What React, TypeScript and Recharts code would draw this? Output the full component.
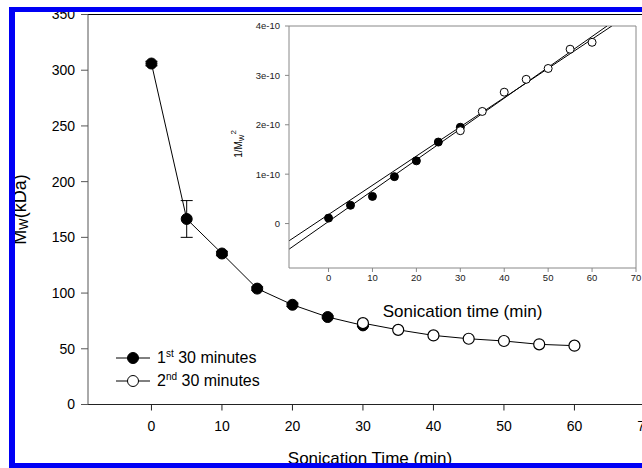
import React from 'react';
import { LineChart, Line, XAxis, YAxis, ErrorBar, ReferenceLine, Legend } from 'recharts';

// main panel: Mw (kDa) vs sonication time
const timeFirst = [0, 5, 10, 15, 20, 25, 30];
const mwFirst = [306, 166.5, 135.5, 104, 89.5, 78.5, 71];
const mwFirstErr = [2, 16.5, 2, 1.5, 1.5, 1, 1];
const timeSecond = [30, 35, 40, 45, 50, 55, 60];
const mwSecond = [73, 67, 62, 59, 57, 54, 52.8];

// inset: 1/Mw^2, in units of 1e-10
const invFirst = [0.11, 0.37, 0.55, 0.95, 1.27, 1.65, 1.95];
const invSecond = [1.88, 2.27, 2.66, 2.92, 3.14, 3.53, 3.67];
// fitted straight lines, end points
const fitFirstX = [-9, 63.4];
const fitFirstY = [-0.52, 4.0];
const fitSecondX = [-9, 64.5];
const fitSecondY = [-0.35, 4.0];

const mainXTicks = [0, 10, 20, 30, 40, 50, 60, 70];
const mainYTicks = [0, 50, 100, 150, 200, 250, 300, 350];
const insetXTicks = [0, 10, 20, 30, 40, 50, 60, 70];
const insetYTicks = [0, 1, 2, 3, 4];

const legendOrdinals = ['1', '2'];
const legendSups = ['st', 'nd'];
const legendRest = [' 30 minutes', ' 30 minutes'];
const legendFills = ['#000', '#fff'];

const firstData = timeFirst.map((x, i) => ({ x, y: mwFirst[i], err: mwFirstErr[i] }));
const secondData = timeSecond.map((x, i) => ({ x, y: mwSecond[i] }));
const invFirstData = timeFirst.map((x, i) => ({ x, y: invFirst[i] }));
const invSecondData = timeSecond.map((x, i) => ({ x, y: invSecond[i] }));
const fitFirst = fitFirstX.map((x, i) => ({ x, y: fitFirstY[i] }));
const fitSecond = fitSecondX.map((x, i) => ({ x, y: fitSecondY[i] }));

const FONT = "Arial, 'Liberation Sans', Helvetica, sans-serif";

const MwLabel = (props: any) => {
  const vb = props.viewBox || { x: 0, y: 14, width: 88, height: 390 };
  const cy = vb.y + vb.height / 2;
  const cx = 20;
  return (
    <text x={cx} y={cy} transform={`rotate(-90 ${cx} ${cy})`} textAnchor="middle"
      dominantBaseline="central" fontSize={18} fill="#000">
      M<tspan dy={4} fontSize={12}>W</tspan><tspan dy={-4}>(kDa)</tspan>
    </text>
  );
};

const InvLabel = (props: any) => {
  const vb = props.viewBox || { x: 0, y: 6, width: 63, height: 242 };
  const cy = vb.y + vb.height / 2 - 3;
  const cx = 12;
  return (
    <text x={cx} y={cy} transform={`rotate(-90 ${cx} ${cy})`} textAnchor="middle"
      dominantBaseline="central" fontSize={10} fill="#000">
      1/M<tspan dy={3} fontSize={7}>W</tspan><tspan dy={-8} fontSize={8}>2</tspan>
    </text>
  );
};

const renderLegend = () => (
  <div style={{ fontFamily: FONT, fontSize: 16, color: '#000' }}>
    {legendOrdinals.map((o, i) => (
      <div key={o} style={{ display: 'flex', alignItems: 'center', height: 23 }}>
        <svg width={36} height={14} style={{ display: 'block' }}>
          <line x1={0} y1={7} x2={34} y2={7} stroke="#000" strokeWidth={1} />
          <circle cx={17} cy={7} r={5.5} fill={legendFills[i]} stroke="#000" strokeWidth={1} />
        </svg>
        <span style={{ marginLeft: 5, whiteSpace: 'nowrap', lineHeight: '16px' }}>
          {o}<sup style={{ fontSize: 10, verticalAlign: 'super', lineHeight: 0 }}>{legendSups[i]}</sup>{legendRest[i]}
        </span>
      </div>
    ))}
  </div>
);

const fmtInset = (v: number) => (v === 0 ? '0' : `${v}e-10`);

export default function App() {
  return (
    <div style={{ position: 'absolute', left: 0, top: 0, width: 642, height: 468, overflow: 'hidden', background: '#fff', fontFamily: FONT }}>
      <div style={{ position: 'absolute', left: 0, top: 0 }}>
        <LineChart width={660} height={468} margin={{ top: 14.5, right: 8, bottom: 0, left: 0 }}>
          <XAxis type="number" dataKey="x" domain={[-9, 71]} ticks={mainXTicks} height={63.5}
            tickSize={6} tickMargin={11} stroke="#222" tick={{ fill: '#000', fontSize: 14 }}
            allowDataOverflow
            label={{ value: 'Sonication Time (min)', position: 'insideBottom', offset: 4, fontSize: 17, fill: '#000' }} />
          <YAxis type="number" domain={[0, 350]} ticks={mainYTicks} width={88} tickSize={7}
            tickMargin={6} stroke="#555" tick={{ fill: '#000', fontSize: 14 }} label={<MwLabel />} />
          <ReferenceLine y={350} stroke="#000" strokeWidth={1} />
          <Line data={firstData} dataKey="y" stroke="#000" strokeWidth={1} isAnimationActive={false}
            dot={{ r: 5.5, fill: '#000', stroke: '#000', strokeWidth: 1 }} activeDot={false} legendType="none">
            <ErrorBar dataKey="err" width={6} stroke="#000" strokeWidth={1} direction="y" />
          </Line>
          <Line data={secondData} dataKey="y" stroke="#000" strokeWidth={1} isAnimationActive={false}
            dot={{ r: 5.5, fill: '#fff', stroke: '#000', strokeWidth: 1.2 }} activeDot={false} legendType="none" />
          <Legend content={renderLegend} layout="vertical" align="center" verticalAlign="middle"
            wrapperStyle={{ left: 116, top: 346, width: 200 }} />
        </LineChart>
      </div>

      <div style={{ position: 'absolute', left: 226, top: 20 }}>
        <LineChart width={420} height={310} margin={{ top: 6, right: 10, bottom: 0, left: 0 }}>
          <XAxis type="number" dataKey="x" domain={[-9, 70]} ticks={insetXTicks} height={62}
            tickSize={4} tickMargin={2} stroke="#888" tick={{ fill: '#222', fontSize: 9.5 }}
            allowDataOverflow
            label={{ value: 'Sonication time (min)', position: 'insideBottom', offset: 13, fontSize: 17, fill: '#000' }} />
          <YAxis type="number" domain={[-0.9, 4]} ticks={insetYTicks} width={63} tickSize={4}
            tickMargin={5} stroke="#888" tick={{ fill: '#222', fontSize: 9.5 }} tickFormatter={fmtInset}
            allowDataOverflow label={<InvLabel />} />
          <ReferenceLine y={4} stroke="#888" />
          <ReferenceLine x={70} stroke="#888" />
          <Line data={fitFirst} dataKey="y" stroke="#000" strokeWidth={1} dot={false} activeDot={false}
            isAnimationActive={false} />
          <Line data={fitSecond} dataKey="y" stroke="#000" strokeWidth={1} dot={false} activeDot={false}
            isAnimationActive={false} />
          <Line data={invFirstData} dataKey="y" stroke="none" isAnimationActive={false} activeDot={false}
            dot={{ r: 4, fill: '#000', stroke: '#000', strokeWidth: 1 }} />
          <Line data={invSecondData} dataKey="y" stroke="none" isAnimationActive={false} activeDot={false}
            dot={{ r: 4, fill: '#fff', stroke: '#000', strokeWidth: 1 }} />
        </LineChart>
      </div>

      <div style={{ position: 'absolute', left: 9, top: 7, width: 6, height: 461, background: '#0000f5', zIndex: 5 }} />
      <div style={{ position: 'absolute', left: 9, top: 7, width: 633, height: 5, background: '#0000f5', zIndex: 5 }} />
      <div style={{ position: 'absolute', left: 9, top: 463, width: 633, height: 5, background: '#0000f5', zIndex: 5 }} />
    </div>
  );
}
